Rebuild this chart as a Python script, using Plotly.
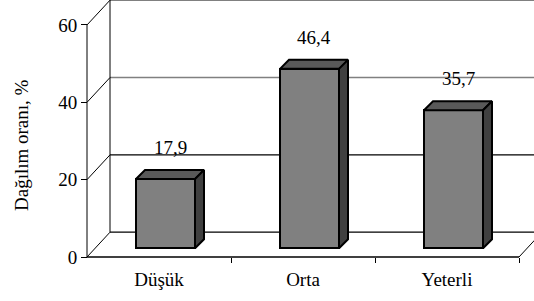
import plotly.graph_objects as go

categories = ["Düşük", "Orta", "Yeterli"]
values = [17.9, 46.4, 35.7]
value_labels = ["17,9", "46,4", "35,7"]
y_ticks = [0, 20, 40, 60]
y_title = "Dağılım oranı, %"

# geometry (oblique projection, in data units)
PX_X = 144.0          # px per category
PX_Y = 3.867          # px per value unit
WALL_DX = 23 / PX_X   # back wall offset
WALL_DY = 24.8 / PX_Y
BAR_OX = 6.5 / PX_X   # bar plane offset
BAR_OY = 8.7 / PX_Y
BAR_DX = 9 / PX_X     # bar depth
BAR_DY = 9 / PX_Y
BAR_W = 59 / PX_X

FONT = "Liberation Serif, Times New Roman, DejaVu Serif, serif"
W, H = 534, 301
ML, MR, MT, MB = 70, 0, 0, 30
plot_w = W - ML - MR
plot_h = H - MT - MB
x0_px = 87   # front-left corner pixel
y0_px = 257  # front floor pixel
x_start = -0.5 - (x0_px - ML) / PX_X
x_end = x_start + plot_w / PX_X
y_start = -(MT + plot_h - y0_px) / PX_Y
y_end = y_start + plot_h / PX_Y

fig = go.Figure()
shapes = []

x_left = -0.5
x_right = len(categories) - 0.5
ymax = y_ticks[-1]

# back wall gridlines
for v in y_ticks:
    col = "#000000" if v in (0, 20) else "#808080"
    shapes.append(dict(type="line", x0=x_left + WALL_DX, x1=x_end + 1, y0=v + WALL_DY, y1=v + WALL_DY,
                       line=dict(color=col, width=1.3 if v in (0, 20) else 1.6), layer="below"))
    # left wall diagonals
    shapes.append(dict(type="line", x0=x_left, x1=x_left + WALL_DX, y0=v, y1=v + WALL_DY,
                       line=dict(color="#000000", width=1), layer="below"))
# back-left vertical
shapes.append(dict(type="line", x0=x_left + WALL_DX, x1=x_left + WALL_DX, y0=WALL_DY, y1=ymax + WALL_DY + 5,
                   line=dict(color="#000000", width=1), layer="below"))
# front-left vertical
shapes.append(dict(type="line", x0=x_left, x1=x_left, y0=0, y1=ymax,
                   line=dict(color="#000000", width=1), layer="below"))
# front floor line
shapes.append(dict(type="line", x0=x_left, x1=x_right, y0=0, y1=0,
                   line=dict(color="#000000", width=1.3), layer="below"))
# right floor diagonal
shapes.append(dict(type="line", x0=x_right, x1=x_right + WALL_DX, y0=0, y1=WALL_DY,
                   line=dict(color="#000000", width=1), layer="below"))

# bars: front faces
xs = [i + BAR_OX for i in range(len(categories))]
fig.add_trace(go.Bar(x=xs, y=values, base=[BAR_OY] * len(values), width=BAR_W,
                     marker=dict(color="#808080", line=dict(color="#000000", width=2)),
                     showlegend=False, hoverinfo="skip"))

# top and side faces
for xc, v in zip(xs, values):
    xl, xr = xc - BAR_W / 2, xc + BAR_W / 2
    yt = BAR_OY + v
    fig.add_trace(go.Scatter(
        x=[xl, xl + BAR_DX, xr + BAR_DX, xr, xl],
        y=[yt, yt + BAR_DY, yt + BAR_DY, yt, yt],
        fill="toself", fillcolor="#595959", mode="lines",
        line=dict(color="#000000", width=2), showlegend=False, hoverinfo="skip"))
    fig.add_trace(go.Scatter(
        x=[xr, xr + BAR_DX, xr + BAR_DX, xr, xr],
        y=[BAR_OY, BAR_OY + BAR_DY, yt + BAR_DY, yt, BAR_OY],
        fill="toself", fillcolor="#404040", mode="lines",
        line=dict(color="#000000", width=2), showlegend=False, hoverinfo="skip"))

annotations = []
for xc, v, lab in zip(xs, values, value_labels):
    annotations.append(dict(x=xc + BAR_DX / 2, y=BAR_OY + v + BAR_DY, text=lab, showarrow=False,
                            yanchor="bottom", yshift=10,
                            font=dict(family=FONT, size=19, color="#000000")))
annotations.append(dict(x=(21 - ML) / plot_w, y=(MT + plot_h - 145) / plot_h, xref="paper", yref="paper",
                        xanchor="center", yanchor="middle",
                        text=y_title, textangle=-90, showarrow=False,
                        font=dict(family=FONT, size=19, color="#000000")))

fig.update_layout(
    width=W, height=H, margin=dict(l=ML, r=MR, t=MT, b=MB, autoexpand=False),
    paper_bgcolor="#ffffff", plot_bgcolor="#ffffff",
    shapes=shapes, annotations=annotations, bargap=0,
    xaxis=dict(range=[x_start, x_end], tickvals=list(range(len(categories))), ticktext=categories,
               ticks="", showgrid=False, zeroline=False, showline=False, automargin=False,
               anchor="free", position=(MT + plot_h - y0_px) / plot_h, ticklabelstandoff=9,
               tickfont=dict(family=FONT, size=19, color="#000000"),
               minor=dict(tickvals=[x_left + 1, x_left + 2, x_right], ticks="outside", ticklen=5,
                          tickcolor="#000000", tickwidth=1, showgrid=False)),
    yaxis=dict(range=[y_start, y_end], tickvals=y_ticks, ticks="outside", ticklen=6,
               tickcolor="#000000", showgrid=False, zeroline=False, showline=False, automargin=False,
               anchor="free", position=(x0_px - ML) / plot_w,
               tickfont=dict(family=FONT, size=19, color="#000000")),
)

fig.write_html("out.html", config={"displayModeBar": False},
               post_script="document.body.style.margin='0';")
